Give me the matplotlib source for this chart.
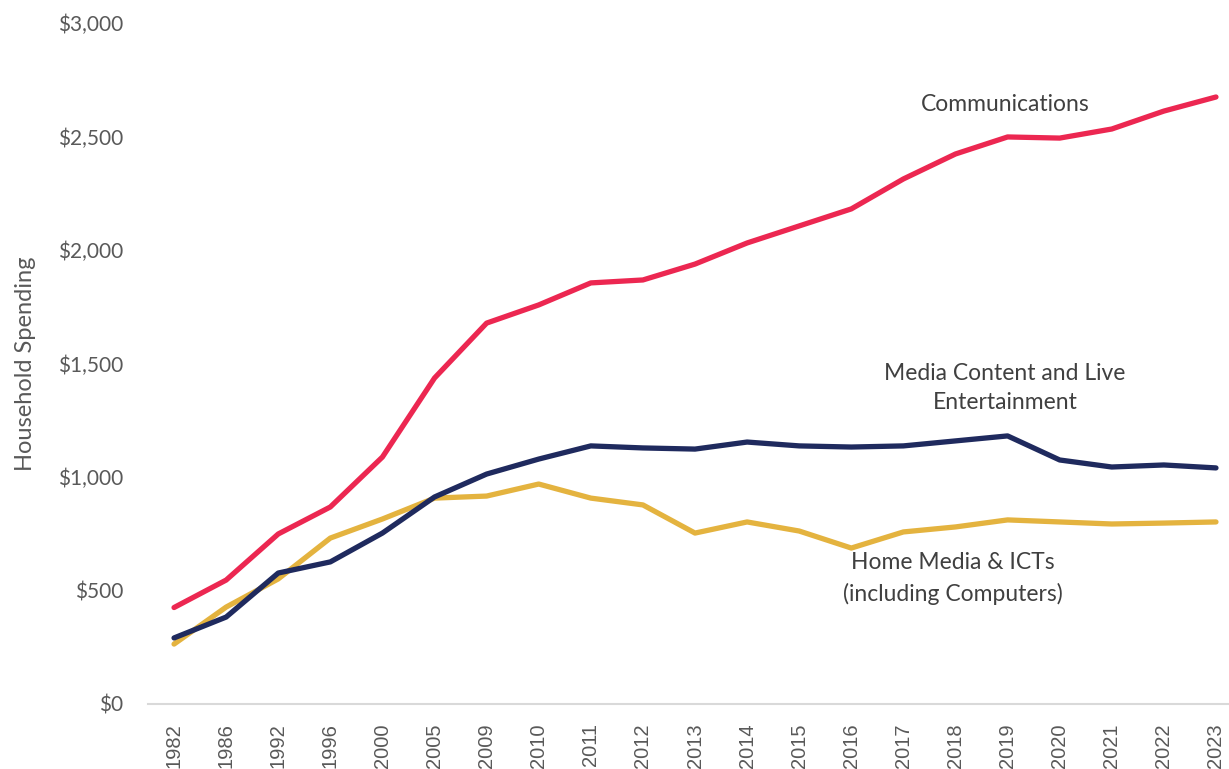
import matplotlib.pyplot as plt
from matplotlib.ticker import FuncFormatter

# Household spending by category (USD)
years = ['1982', '1986', '1992', '1996', '2000', '2005', '2009', '2010', '2011', '2012',
         '2013', '2014', '2015', '2016', '2017', '2018', '2019', '2020', '2021', '2022', '2023']
communications = [425, 546, 749, 868, 1088, 1436, 1678, 1758, 1855, 1868,
                  1938, 2031, 2106, 2181, 2313, 2423, 2498, 2493, 2533, 2612, 2674]
media_content = [291, 383, 577, 626, 753, 912, 1013, 1079, 1137, 1128,
                 1123, 1154, 1137, 1132, 1137, 1159, 1181, 1075, 1044, 1053, 1040]
home_media = [264, 427, 551, 731, 815, 907, 916, 969, 907, 877,
              753, 802, 762, 687, 758, 780, 811, 802, 793, 797, 802]

RED = '#EC2751'
NAVY = '#1F2A5E'
GOLD = '#E4B33F'
TEXT = '#404040'
TICK = '#595959'

fig = plt.figure(figsize=(12.29, 7.69), dpi=100)
ax = fig.add_axes([148 / 1229, 65 / 769, 1081 / 1229, 681 / 769])

x = list(range(len(years)))
for vals, col in [(home_media, GOLD), (media_content, NAVY), (communications, RED)]:
    ax.plot(x, vals, color=col, lw=3.8, solid_capstyle='round', solid_joinstyle='round')

ax.set_xlim(-0.5, 20.25)
ax.set_ylim(0, 3000)
ax.set_yticks(range(0, 3001, 500))
ax.yaxis.set_major_formatter(FuncFormatter(lambda v, p: f'${int(v):,}'))
ax.set_xticks(x)
ax.set_xticklabels(years, rotation=90, fontsize=14.5, color=TICK, family='Liberation Sans')

for lab in ax.get_yticklabels():
    lab.set_family('Lato')
    lab.set_fontsize(15)
    lab.set_color(TICK)

ax.tick_params(axis='both', length=0)
ax.tick_params(axis='y', pad=18)
ax.tick_params(axis='x', pad=14)

for s in ['top', 'right', 'left']:
    ax.spines[s].set_visible(False)
ax.spines['bottom'].set_color('#D9D9D9')
ax.spines['bottom'].set_linewidth(1.5)

ax.set_ylabel('Household Spending', family='Lato', fontsize=17, color=TICK)
ax.yaxis.set_label_coords(-112 / 1081, 0.5)

# series labels
ax.text(15.95, 2640, 'Communications', ha='center', va='center',
        family='Lato', fontsize=16.5, color=TEXT)
ax.text(15.95, 1392, 'Media Content and Live\nEntertainment', ha='center', va='center',
        family='Lato', fontsize=16.5, color=TEXT, linespacing=1.5)
ax.text(14.95, 553, 'Home Media & ICTs\n(including Computers)', ha='center', va='center',
        family='Lato', fontsize=16.5, color=TEXT, linespacing=1.5)

fig.savefig('out.png', dpi=100)
